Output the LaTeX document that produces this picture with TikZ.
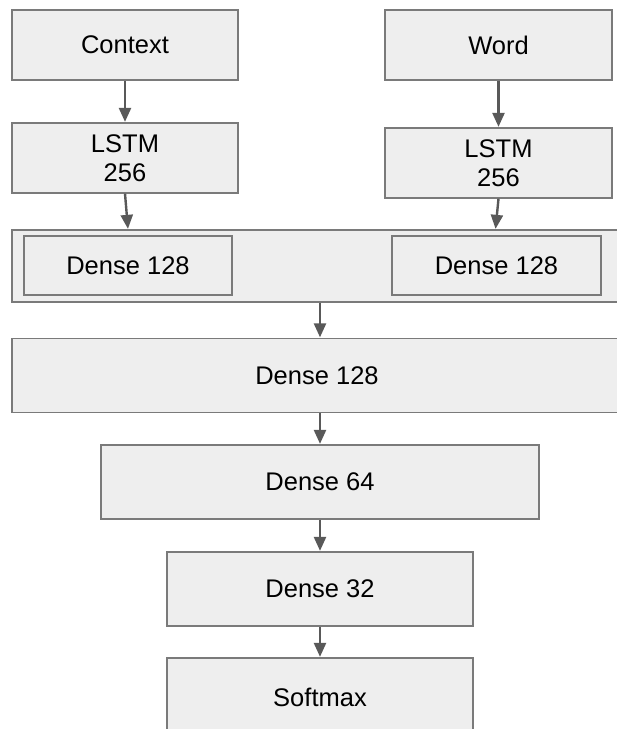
\documentclass[tikz,border=0pt]{standalone}
\usepackage{fontspec}
\setmainfont{Liberation Sans}
\usetikzlibrary{arrows.meta,calc}
\definecolor{boxfill}{HTML}{EEEEEE}
\definecolor{boxline}{HTML}{7A7A7A}
\definecolor{arrowcol}{HTML}{595959}
\begin{document}
\begin{tikzpicture}[x=1pt,y=-1pt,
  layer/.style={draw=boxline,fill=boxfill,line width=1.3pt,inner sep=0pt,
    font=\fontsize{25.5}{29.5}\selectfont,align=center,text=black},
  conn/.style={draw=arrowcol,line width=2.4pt,-{Triangle[width=12pt,length=14pt]},shorten >=0.5pt}]
\useasboundingbox (0,0) rectangle (617,729);
\clip (0,0) rectangle (617,729);
% top row
\node[layer,minimum width=226pt,minimum height=70pt] (ctx) at (125,45) {Context};
\node[layer,minimum width=227pt,minimum height=70pt] (word) at (498.5,45) {Word};
\node[layer,minimum width=226pt,minimum height=70pt] (lstm1) at (125,158) {LSTM\\256};
\node[layer,minimum width=227pt,minimum height=70pt] (lstm2) at (498.5,163) {LSTM\\256};
% container
\node[layer,minimum width=610pt,minimum height=72pt] (outer) at (317,266) {};
\node[layer,minimum width=208pt,minimum height=59pt] (d1) at (128,265.5) {Dense 128};
\node[layer,minimum width=209pt,minimum height=59pt] (d2) at (496.5,265.5) {Dense 128};
% stack
\node[layer,minimum width=610pt,minimum height=74pt] (d128) at (317,375.5) {Dense 128};
\node[layer,minimum width=438pt,minimum height=74pt] (d64) at (320,482) {Dense 64};
\node[layer,minimum width=306pt,minimum height=74pt] (d32) at (320,589) {Dense 32};
\node[layer,minimum width=306pt,minimum height=78pt] (soft) at (320,697) {Softmax};
% connectors
\draw[conn] (ctx.south) -- (lstm1.north);
\draw[conn] (word.south) -- (lstm2.north);
\draw[conn] (lstm1.south) -- ([xshift=3pt]lstm1.south |- outer.north);
\draw[conn] (lstm2.south) -- ([xshift=-3pt]lstm2.south |- outer.north);
\draw[conn] (outer.south -| d64.north) -- (d128.north -| d64.north);
\draw[conn] (d128.south -| d64.north) -- (d64.north);
\draw[conn] (d64.south) -- (d32.north);
\draw[conn] (d32.south) -- (soft.north);
\end{tikzpicture}
\end{document}
